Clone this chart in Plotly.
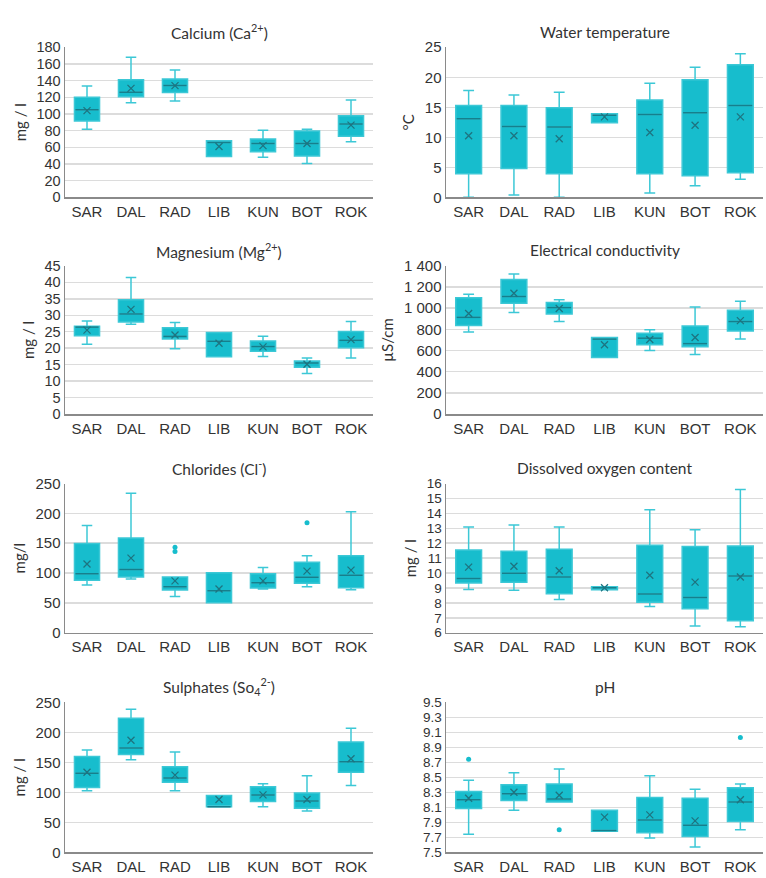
import plotly.graph_objects as go

SITES = ["SAR", "DAL", "RAD", "LIB", "KUN", "BOT", "ROK"]

# Calcium (mg/l)
CA_LOW = [81.5, 113.4, 115.4, 48.8, 48.0, 40.6, 66.6]
CA_Q1 = [91.4, 120.5, 125.6, 48.8, 54.7, 49.6, 73.3]
CA_MED = [105.0, 126.0, 134.0, 65.8, 64.6, 64.6, 87.8]
CA_Q3 = [120.0, 141.0, 141.8, 67.7, 70.0, 79.5, 97.7]
CA_UP = [133.5, 168.0, 152.8, 67.7, 80.3, 81.5, 116.6]
CA_MEAN = [104.0, 130.7, 134.0, 61.0, 62.0, 64.6, 86.6]

# Water temperature (°C)
WT_LOW = [0.0, 0.4, 0.0, 12.4, 0.7, 1.9, 3.0]
WT_Q1 = [3.9, 4.8, 3.9, 12.4, 3.9, 3.6, 4.1]
WT_MED = [13.1, 11.8, 11.7, 13.65, 13.8, 14.1, 15.3]
WT_Q3 = [15.3, 15.3, 14.9, 13.9, 16.2, 19.6, 22.1]
WT_UP = [17.8, 17.05, 17.5, 13.9, 19.0, 21.65, 23.9]
WT_MEAN = [10.25, 10.25, 9.76, 13.4, 10.8, 12.0, 13.4]

# Magnesium (mg/l)
MG_LOW = [21.2, 27.3, 19.8, 17.4, 17.5, 12.3, 17.0]
MG_Q1 = [23.8, 27.96, 22.8, 17.4, 19.1, 14.2, 20.1]
MG_MED = [26.4, 30.4, 23.6, 22.1, 20.5, 15.5, 22.4]
MG_Q3 = [26.7, 34.7, 26.2, 24.8, 22.2, 16.1, 25.1]
MG_UP = [28.3, 41.5, 27.8, 24.8, 23.6, 17.0, 28.1]
MG_MEAN = [25.5, 31.8, 24.0, 21.5, 20.4, 15.1, 22.6]

# Electrical conductivity (µS/cm)
EC_LOW = [775, 960, 874, 535, 600, 563, 708]
EC_Q1 = [837, 1046, 945, 535, 655, 637, 785]
EC_MED = [914, 1111, 1006, 708, 717, 665, 874]
EC_Q3 = [1098, 1271, 1055, 723, 763, 831, 982]
EC_UP = [1132, 1323, 1080, 723, 797, 1012, 1065]
EC_MEAN = [951, 1142, 997, 655, 705, 723, 883]

# Chlorides (mg/l)
CL_LOW = [79.8, 90.2, 60.7, 50.3, 73.2, 77.0, 72.1]
CL_Q1 = [88.0, 93.4, 71.6, 50.3, 74.9, 83.1, 75.4]
CL_MED = [98.9, 106.0, 77.0, 70.5, 83.6, 92.9, 96.2]
CL_Q3 = [149.7, 159.0, 93.4, 100.5, 98.9, 118.0, 129.0]
CL_UP = [179.8, 233.9, 93.4, 100.5, 109.3, 129.0, 202.7]
CL_MEAN = [115.3, 125.1, 86.9, 73.2, 86.9, 103.3, 104.9]
CL_OUT_SITE = ["RAD", "RAD", "BOT"]
CL_OUT_VAL = [143.2, 136.1, 184.2]

# Dissolved oxygen content (mg/l)
DO_LOW = [8.9, 8.84, 8.22, 8.88, 7.76, 6.45, 6.4]
DO_Q1 = [9.34, 9.39, 8.62, 8.88, 8.05, 7.61, 6.8]
DO_MED = [9.63, 9.98, 9.74, 9.01, 8.6, 8.36, 9.8]
DO_Q3 = [11.54, 11.47, 11.6, 9.08, 11.86, 11.78, 11.82]
DO_UP = [13.09, 13.22, 13.09, 9.08, 14.25, 12.9, 15.6]
DO_MEAN = [10.4, 10.46, 10.15, 9.01, 9.85, 9.39, 9.74]

# Sulphates (mg/l)
SO_LOW = [102.7, 154.2, 102.7, 76.1, 76.1, 69.1, 111.4]
SO_Q1 = [108.1, 162.9, 116.8, 76.1, 84.8, 73.4, 133.6]
SO_MED = [132.0, 173.8, 123.9, 76.1, 95.7, 85.4, 151.0]
SO_Q3 = [159.7, 223.6, 142.8, 94.6, 109.2, 98.9, 184.0]
SO_UP = [170.5, 238.3, 167.2, 94.6, 114.1, 127.7, 206.8]
SO_MEAN = [133.6, 186.8, 128.7, 88.1, 95.7, 88.1, 155.9]

# pH
PH_LOW = [7.74, 8.06, 8.17, 7.78, 7.69, 7.57, 7.8]
PH_Q1 = [8.085, 8.19, 8.17, 7.78, 7.76, 7.71, 7.91]
PH_MED = [8.2, 8.28, 8.21, 7.79, 7.93, 7.86, 8.17]
PH_Q3 = [8.31, 8.4, 8.41, 8.06, 8.23, 8.22, 8.36]
PH_UP = [8.46, 8.56, 8.61, 8.06, 8.52, 8.34, 8.41]
PH_MEAN = [8.22, 8.3, 8.26, 7.97, 8.0, 7.92, 8.2]
PH_OUT_SITE = ["SAR", "RAD", "ROK"]
PH_OUT_VAL = [8.74, 7.8, 9.03]

TITLES = ["Calcium (Ca<sup>2+</sup>)", "Water temperature",
          "Magnesium (Mg<sup>2+</sup>)", "Electrical conductivity",
          "Chlorides (Cl<sup>-</sup>)", "Dissolved oxygen content",
          "Sulphates (So<sub>4</sub><sup>2-</sup>)", "pH"]
YTITLES = ["mg / l", "°C", "mg / l", "µS/cm", "mg/l", "mg / l", "mg / l", ""]
YRANGES = [[0, 180], [0, 25], [0, 45], [0, 1400], [0, 250], [6, 16], [0, 250], [7.5, 9.5]]
YDTICK = [20, 5, 5, 200, 50, 1, 50, 0.2]
YTICKSIZE = [14.5, 15, 14.5, 15, 15, 13.5, 15, 13.5]

PANELS = [
    (CA_LOW, CA_Q1, CA_MED, CA_Q3, CA_UP, CA_MEAN, [], []),
    (WT_LOW, WT_Q1, WT_MED, WT_Q3, WT_UP, WT_MEAN, [], []),
    (MG_LOW, MG_Q1, MG_MED, MG_Q3, MG_UP, MG_MEAN, [], []),
    (EC_LOW, EC_Q1, EC_MED, EC_Q3, EC_UP, EC_MEAN, [], []),
    (CL_LOW, CL_Q1, CL_MED, CL_Q3, CL_UP, CL_MEAN, CL_OUT_SITE, CL_OUT_VAL),
    (DO_LOW, DO_Q1, DO_MED, DO_Q3, DO_UP, DO_MEAN, [], []),
    (SO_LOW, SO_Q1, SO_MED, SO_Q3, SO_UP, SO_MEAN, [], []),
    (PH_LOW, PH_Q1, PH_MED, PH_Q3, PH_UP, PH_MEAN, PH_OUT_SITE, PH_OUT_VAL),
]

W, H = 766, 878
XDOM = [[65 / W, 373 / W], [446 / W, 763 / W]]
ROW_PX = [(39, 192), (262, 413), (484, 636), (707, 860)]

FILL = "#17BDCD"
EDGE = "#3CC8D6"
MED_C = "#167F8C"
MEAN_C = "#1E7480"
BOXW = 0.57
FONT_FAMILY = "Liberation Sans, Arial, sans-serif"

fig = go.Figure()
xpos = list(range(len(SITES)))
annotations = []

for i, (low, q1, med, q3, up, mean, osite, oval) in enumerate(PANELS):
    r, c = divmod(i, 2)
    n = i + 1
    xa = "x" if n == 1 else f"x{n}"
    ya = "y" if n == 1 else f"y{n}"
    top, bot = ROW_PX[r]
    ydom = [1 - bot / H, 1 - top / H]

    fig.add_trace(go.Box(
        x=xpos, q1=q1, median=med, q3=q3, lowerfence=low, upperfence=up,
        width=BOXW, whiskerwidth=0.42, fillcolor=FILL,
        line=dict(color=EDGE, width=1.5), boxpoints=False,
        xaxis=xa, yaxis=ya, showlegend=False, hoverinfo="skip"))

    # median lines (darker)
    mx, my = [], []
    for k, m in enumerate(med):
        mx += [k - BOXW / 2 + 0.02, k + BOXW / 2 - 0.02, None]
        my += [m, m, None]
    fig.add_trace(go.Scatter(x=mx, y=my, mode="lines",
                             line=dict(color=MED_C, width=1.5),
                             xaxis=xa, yaxis=ya, showlegend=False, hoverinfo="skip"))
    # means
    fig.add_trace(go.Scatter(x=xpos, y=mean, mode="markers",
                             marker=dict(symbol="x-thin", size=7,
                                         line=dict(color=MEAN_C, width=1.3)),
                             xaxis=xa, yaxis=ya, showlegend=False, hoverinfo="skip"))
    # outliers
    if osite:
        fig.add_trace(go.Scatter(x=[SITES.index(s) for s in osite], y=oval, mode="markers",
                                 marker=dict(symbol="circle", size=5, color=FILL),
                                 xaxis=xa, yaxis=ya, showlegend=False, hoverinfo="skip"))

    xkey = "xaxis" if n == 1 else f"xaxis{n}"
    ykey = "yaxis" if n == 1 else f"yaxis{n}"
    fig.layout[xkey] = dict(
        domain=XDOM[c], anchor=ya, range=[-0.5, 6.5],
        tickmode="array", tickvals=xpos, ticktext=SITES,
        showgrid=False, zeroline=False, showline=True, linecolor="#8a8a8a", linewidth=1.5,
        ticks="", tickfont=dict(family=FONT_FAMILY, size=15, color="#333333"), fixedrange=True)
    ydict = dict(
        domain=ydom, anchor=xa, range=YRANGES[i], dtick=YDTICK[i], tick0=YRANGES[i][0],
        showgrid=True, gridcolor="#dcdcdc", gridwidth=1.5, zeroline=False,
        showline=True, linecolor="#8a8a8a", linewidth=1.5, ticks="",
        tickfont=dict(family=FONT_FAMILY, size=YTICKSIZE[i], color="#333333"),
        separatethousands=True, fixedrange=True)
    if YTITLES[i]:
        ydict["title"] = dict(text=YTITLES[i],
                              font=dict(family="Lato, sans-serif", size=15, color="#333333"),
                              standoff=6)
    fig.layout[ykey] = ydict

    annotations.append(dict(
        text=TITLES[i], x=sum(XDOM[c]) / 2, y=1 - (top - 16) / H,
        xref="paper", yref="paper", showarrow=False, xanchor="center", yanchor="middle",
        font=dict(family="Lato, sans-serif", size=15.5, color="#333333")))

fig.update_layout(
    width=W, height=H, margin=dict(l=0, r=0, t=0, b=0),
    paper_bgcolor="white", plot_bgcolor="white",
    annotations=annotations, separators=". ", showlegend=False)

fig.write_html("out.html", config={"displayModeBar": False, "staticPlot": True})

# remove the default page margin so the 766x878 figure fits the window exactly
with open("out.html", "r", encoding="utf-8") as f:
    html = f.read()
html = html.replace("<head>", "<head><style>html,body{margin:0;padding:0;overflow:hidden;}</style>", 1)
with open("out.html", "w", encoding="utf-8") as f:
    f.write(html)
